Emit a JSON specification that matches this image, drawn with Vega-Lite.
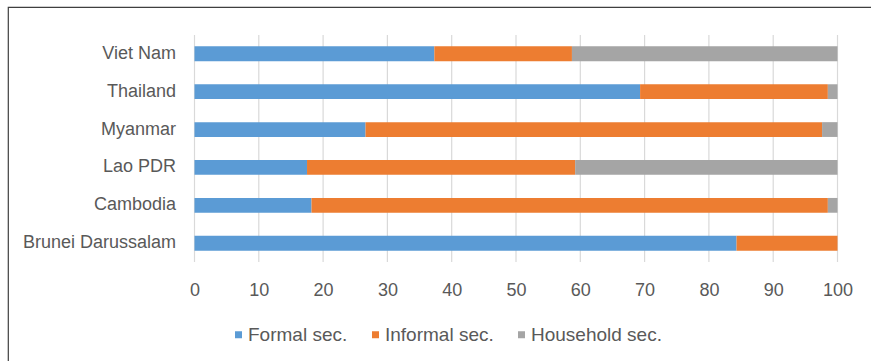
{
  "$schema": "https://vega.github.io/schema/vega-lite/v6.json",
  "description": "Share of employment by sector (formal, informal, household), selected ASEAN countries.",
  "autosize": {"type": "none"},
  "padding": {"left": 8, "top": 7, "right": -1, "bottom": -1},
  "width": 864,
  "height": 355,
  "background": "white",
  "config": {
    "font": "Liberation Sans",
    "view": {"stroke": "#3F3F3F", "strokeWidth": 1.2}
  },
  "datasets": {
    "shares": [
      {"country": "Viet Nam", "sector": "Formal sec.", "n": 1, "share": 37.3},
      {"country": "Viet Nam", "sector": "Informal sec.", "n": 2, "share": 21.4},
      {"country": "Viet Nam", "sector": "Household sec.", "n": 3, "share": 41.3},
      {"country": "Thailand", "sector": "Formal sec.", "n": 1, "share": 69.3},
      {"country": "Thailand", "sector": "Informal sec.", "n": 2, "share": 29.2},
      {"country": "Thailand", "sector": "Household sec.", "n": 3, "share": 1.5},
      {"country": "Myanmar", "sector": "Formal sec.", "n": 1, "share": 26.6},
      {"country": "Myanmar", "sector": "Informal sec.", "n": 2, "share": 71.0},
      {"country": "Myanmar", "sector": "Household sec.", "n": 3, "share": 2.4},
      {"country": "Lao PDR", "sector": "Formal sec.", "n": 1, "share": 17.5},
      {"country": "Lao PDR", "sector": "Informal sec.", "n": 2, "share": 41.7},
      {"country": "Lao PDR", "sector": "Household sec.", "n": 3, "share": 40.8},
      {"country": "Cambodia", "sector": "Formal sec.", "n": 1, "share": 18.2},
      {"country": "Cambodia", "sector": "Informal sec.", "n": 2, "share": 80.3},
      {"country": "Cambodia", "sector": "Household sec.", "n": 3, "share": 1.5},
      {"country": "Brunei Darussalam", "sector": "Formal sec.", "n": 1, "share": 84.3},
      {"country": "Brunei Darussalam", "sector": "Informal sec.", "n": 2, "share": 15.7},
      {"country": "Brunei Darussalam", "sector": "Household sec.", "n": 3, "share": 0}
    ],
    "gridlines": [
      {"tick": 0}, {"tick": 10}, {"tick": 20}, {"tick": 30}, {"tick": 40}, {"tick": 50},
      {"tick": 60}, {"tick": 70}, {"tick": 80}, {"tick": 90}, {"tick": 100}
    ]
  },
  "resolve": {"scale": {"y": "independent"}, "axis": {"y": "independent"}},
  "layer": [
    {
      "data": {"name": "gridlines"},
      "mark": {"type": "rule", "color": "#D9D9D9", "strokeWidth": 1.2},
      "encoding": {
        "x": {
          "field": "tick",
          "type": "quantitative",
          "scale": {"domain": [0, 100], "range": [186.5, 829.5], "nice": false}
        },
        "y": {
          "datum": 0,
          "type": "quantitative",
          "scale": {"domain": [0, 1], "range": [28, 255], "nice": false, "zero": false},
          "axis": null
        },
        "y2": {"datum": 1}
      }
    },
    {
      "data": {"name": "shares"},
      "mark": {"type": "bar"},
      "encoding": {
        "y": {
          "field": "country",
          "type": "nominal",
          "sort": ["Viet Nam", "Thailand", "Myanmar", "Lao PDR", "Cambodia", "Brunei Darussalam"],
          "scale": {"range": [28, 255], "paddingInner": 0.61, "paddingOuter": 0.3},
          "axis": {
            "title": null,
            "domain": false,
            "ticks": false,
            "tickSize": 0,
            "grid": false,
            "labelPadding": 19,
            "labelFontSize": 18,
            "labelColor": "#595959",
            "offset": -186.5
          }
        },
        "x": {
          "field": "share",
          "type": "quantitative",
          "stack": "zero",
          "scale": {"domain": [0, 100], "range": [186.5, 829.5], "nice": false},
          "axis": {
            "title": null,
            "values": [0, 10, 20, 30, 40, 50, 60, 70, 80, 90, 100],
            "grid": false,
            "domain": false,
            "ticks": false,
            "tickSize": 0,
            "labelPadding": 19,
            "labelFontSize": 18,
            "labelColor": "#595959",
            "labelFlush": false,
            "labelOverlap": false,
            "offset": -100
          }
        },
        "order": {"field": "n", "type": "quantitative"},
        "color": {
          "field": "sector",
          "type": "nominal",
          "scale": {
            "domain": ["Formal sec.", "Informal sec.", "Household sec."],
            "range": ["#5B9BD5", "#ED7D31", "#A5A5A5"]
          },
          "legend": {
            "title": null,
            "orient": "none",
            "legendX": 221,
            "legendY": 318,
            "direction": "horizontal",
            "padding": 0,
            "symbolType": "square",
            "symbolSize": 49,
            "symbolStrokeWidth": 0,
            "labelFontSize": 19,
            "labelColor": "#595959",
            "labelOffset": 0,
            "columnPadding": 18
          }
        }
      }
    }
  ]
}
